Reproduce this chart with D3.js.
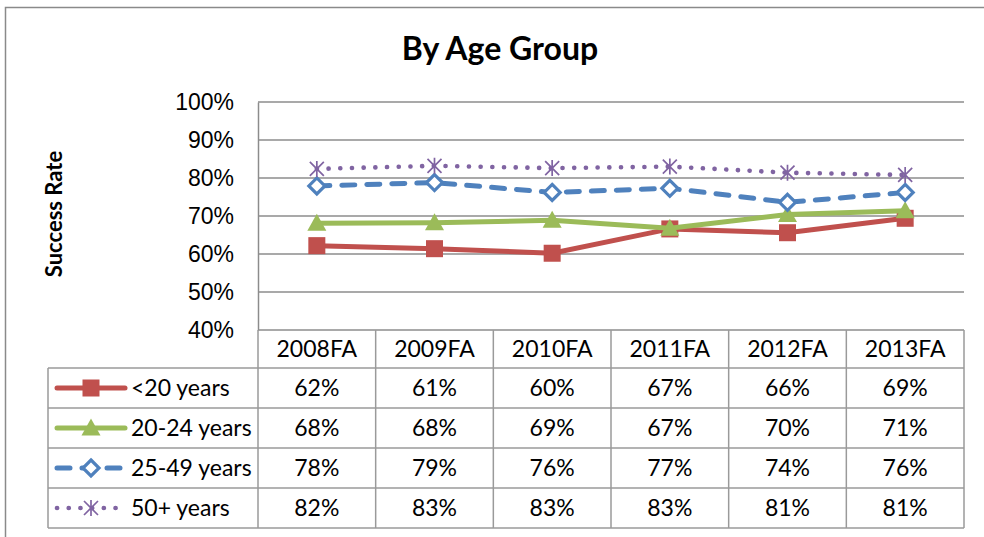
<!DOCTYPE html>
<html>
<head>
<meta charset="utf-8">
<script src="https://cdn.jsdelivr.net/npm/d3@7"></script>
<style>
  body { margin: 0; background: #fff; }
  svg { display: block; font-family: Lato, "Liberation Sans", sans-serif; }
</style>
</head>
<body>
<svg id="chart" width="984" height="537"></svg>
<script>
// data
var terms = ["2008FA", "2009FA", "2010FA", "2011FA", "2012FA", "2013FA"];
var under20 = [0.622, 0.614, 0.602, 0.666, 0.656, 0.694];
var age20to24 = [0.681, 0.682, 0.689, 0.668, 0.704, 0.714];
var age25to49 = [0.779, 0.788, 0.762, 0.773, 0.736, 0.762];
var age50plus = [0.824, 0.832, 0.826, 0.830, 0.814, 0.808];
var yTicks = [0.4, 0.5, 0.6, 0.7, 0.8, 0.9, 1.0];

var series = [
  { name: "<20 years", values: under20, color: "#C0504D", marker: "square", dash: null, width: 5 },
  { name: "20-24 years", values: age20to24, color: "#9BBB59", marker: "triangle", dash: null, width: 5 },
  { name: "25-49 years", values: age25to49, color: "#4F81BD", marker: "diamond", dash: "13,12", width: 5 },
  { name: "50+ years", values: age50plus, color: "#8064A2", marker: "star", dash: "0.1,11.6", width: 4.6 }
];

var svg = d3.select("#chart");
var plotL = 258, plotR = 964, plotT = 102, plotB = 330;
var rowH = 40, headH = 38, tableLeft = 48;
var grid = "#8c8c8c";
var fs = 23;
var pct = d3.format(".0%");

var x = d3.scaleBand().domain(terms).range([plotL, plotR]);
var y = d3.scaleLinear().domain([0.4, 1]).range([plotB, plotT]);

// outer chart border (only top and left show)
svg.append("path")
  .attr("d", "M5.5,540 V7.5 H990")
  .attr("fill", "none").attr("stroke", "#8a8a8a").attr("stroke-width", 1.5);

// title
svg.append("text")
  .attr("x", 500).attr("y", 60)
  .attr("text-anchor", "middle")
  .attr("font-size", 32).attr("font-weight", "bold")
  .text("By Age Group");

// y axis title
svg.append("text")
  .attr("transform", "translate(62,214) rotate(-90)")
  .attr("text-anchor", "middle")
  .attr("font-size", 22).attr("font-weight", "bold")
  .text("Success Rate");

// gridlines
svg.append("g")
  .selectAll("line")
  .data(yTicks)
  .join("line")
  .attr("x1", plotL).attr("x2", plotR)
  .attr("y1", d => y(d)).attr("y2", d => y(d))
  .attr("stroke", grid).attr("stroke-width", 1.5);

// y axis
var yAxis = svg.append("g")
  .attr("transform", "translate(" + plotL + ",0)")
  .call(d3.axisLeft(y).tickValues(yTicks).tickFormat(pct).tickSize(0).tickPadding(24));
yAxis.select(".domain").attr("stroke", grid).attr("stroke-width", 1.5);
yAxis.selectAll("text").attr("font-size", fs).attr("fill", "#000").attr("font-family", null);

// marker shapes
function drawMarker(g, kind, color) {
  if (kind === "square") {
    g.append("rect").attr("x", -8.5).attr("y", -8.5).attr("width", 17).attr("height", 17)
      .attr("fill", color);
  } else if (kind === "triangle") {
    g.append("path").attr("d", "M0,-9.5 L9.5,7.5 L-9.5,7.5 Z").attr("fill", color);
  } else if (kind === "diamond") {
    g.append("path").attr("d", "M0,-8 L8,0 L0,8 L-8,0 Z")
      .attr("fill", "#fff").attr("stroke", color).attr("stroke-width", 3.2);
  } else if (kind === "star") {
    g.append("path").attr("d", "M0,-8 V8 M-7,-7 L7,7 M7,-7 L-7,7")
      .attr("fill", "none").attr("stroke", color).attr("stroke-width", 1.7);
  }
}

var line = d3.line()
  .x((d, i) => x(terms[i]) + x.bandwidth() / 2)
  .y(d => y(d));

series.forEach(function (s) {
  svg.append("path")
    .datum(s.values)
    .attr("d", line)
    .attr("fill", "none")
    .attr("stroke", s.color)
    .attr("stroke-width", s.width)
    .attr("stroke-linecap", s.dash ? "round" : "butt")
    .attr("stroke-dasharray", s.dash);
  s.values.forEach(function (v, i) {
    var g = svg.append("g")
      .attr("transform", "translate(" + (x(terms[i]) + x.bandwidth() / 2) + "," + y(v) + ")");
    drawMarker(g, s.marker, s.color);
  });
});

// data table
var table = svg.append("g");
var tableBottom = plotB + headH + rowH * series.length;
var border = "#9a9a9a";

// header cells
table.selectAll(".head")
  .data(terms)
  .join("text")
  .attr("x", d => x(d) + x.bandwidth() / 2)
  .attr("y", plotB + headH / 2 + 8)
  .attr("text-anchor", "middle")
  .attr("font-size", fs)
  .text(d => d);

// horizontal rules
var hRows = d3.range(series.length + 1).map(i => plotB + headH + i * rowH);
table.selectAll(".hr")
  .data(hRows)
  .join("line")
  .attr("x1", tableLeft).attr("x2", plotR)
  .attr("y1", d => d).attr("y2", d => d)
  .attr("stroke", border).attr("stroke-width", 1.5);

// vertical rules
var vCols = terms.map(t => x(t)).concat([plotR]);
table.selectAll(".vr")
  .data(vCols)
  .join("line")
  .attr("x1", d => d).attr("x2", d => d)
  .attr("y1", plotB).attr("y2", tableBottom)
  .attr("stroke", border).attr("stroke-width", 1.5);
table.append("line")
  .attr("x1", tableLeft).attr("x2", tableLeft)
  .attr("y1", plotB + headH).attr("y2", tableBottom)
  .attr("stroke", border).attr("stroke-width", 1.5);

series.forEach(function (s, r) {
  var cy = plotB + headH + r * rowH + rowH / 2;
  // legend key
  table.append("line")
    .attr("x1", 57).attr("x2", 125).attr("y1", cy).attr("y2", cy)
    .attr("stroke", s.color).attr("stroke-width", s.width)
    .attr("stroke-linecap", "round")
    .attr("stroke-dasharray", s.dash);
  drawMarker(table.append("g").attr("transform", "translate(91," + cy + ")"), s.marker, s.color);
  table.append("text")
    .attr("x", 131).attr("y", cy + 8)
    .attr("font-size", fs)
    .text(s.name);
  table.selectAll(null)
    .data(s.values)
    .join("text")
    .attr("x", (d, i) => x(terms[i]) + x.bandwidth() / 2)
    .attr("y", cy + 8)
    .attr("text-anchor", "middle")
    .attr("font-size", fs)
    .text(d => pct(d));
});
</script>
</body>
</html>
